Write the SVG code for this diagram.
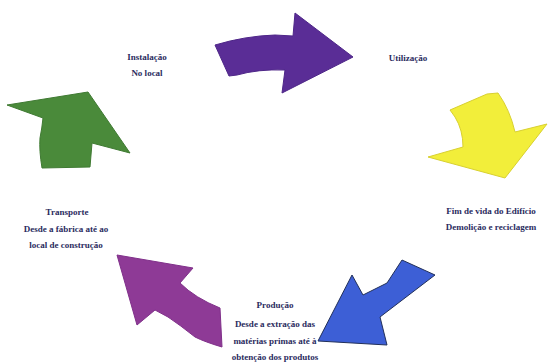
<svg xmlns="http://www.w3.org/2000/svg" width="548" height="363" viewBox="0 0 548 363">
<style>
.t{font-family:"Liberation Serif","Times New Roman",serif;font-size:9px;font-weight:bold;fill:#2b2b5e;text-anchor:middle}
.a{stroke-width:1;stroke-linejoin:round}
</style>
<rect width="548" height="363" fill="#ffffff"/>
<g id="connectors">
<path id="arrow-purple" class="a" fill="#5a2d96" stroke="#4e2688" d="M215,45 Q245,36 275,35 L293,36 L295,13 L353,57 L282,93 L285,70 Q258,69 237,75 L229,76 Z"/>
<path id="arrow-yellow" class="a" fill="#f2ee3a" stroke="#d8d030" d="M450,110 L487,94 L498,93 Q510,110 515,132 L547,124 L505,178 L428,157 L463,147 Q463,130 455,117 Z"/>
<path id="arrow-blue" class="a" fill="#3d5fd6" stroke="#22305a" stroke-width="1.5" d="M402,260 L435,275 L380,317 L387,345 L318,341 L352,275 L363,295 L387,283 Z"/>
<path id="arrow-magenta" class="a" fill="#8e3a96" stroke="#80308a" d="M117,255 L193,268 L180,283 Q195,298 220,308 L222,347 Q205,342 195,337 Q180,325 168,317 L155,310 L137,325 Z"/>
<path id="arrow-green" class="a" fill="#4a8a3a" stroke="#3f7a32" d="M7,105 L88,92 L130,153 L92,143 L90,167 L42,168 Q39,150 40,138 Q42,128 43,118 Z"/>
</g>
<g id="node-instalacao">
<text class="t" x="147" y="60">Instalação</text>
<text class="t" x="147" y="76">No local</text>
</g>
<g id="node-utilizacao">
<text class="t" x="408" y="61">Utilização</text>
</g>
<g id="node-fim">
<text class="t" x="491" y="214">Fim de vida do Edifício</text>
<text class="t" x="491" y="230">Demolição e reciclagem</text>
</g>
<g id="node-transporte">
<text class="t" x="67" y="215">Transporte</text>
<text class="t" x="66" y="232">Desde a fábrica até ao</text>
<text class="t" x="66" y="248">local de construção</text>
</g>
<g id="node-producao">
<text class="t" x="275" y="308">Produção</text>
<text class="t" x="275" y="327">Desde a extração das</text>
<text class="t" x="275" y="344">matérias primas até à</text>
<text class="t" x="275" y="360">obtenção dos produtos</text>
</g>
</svg>
